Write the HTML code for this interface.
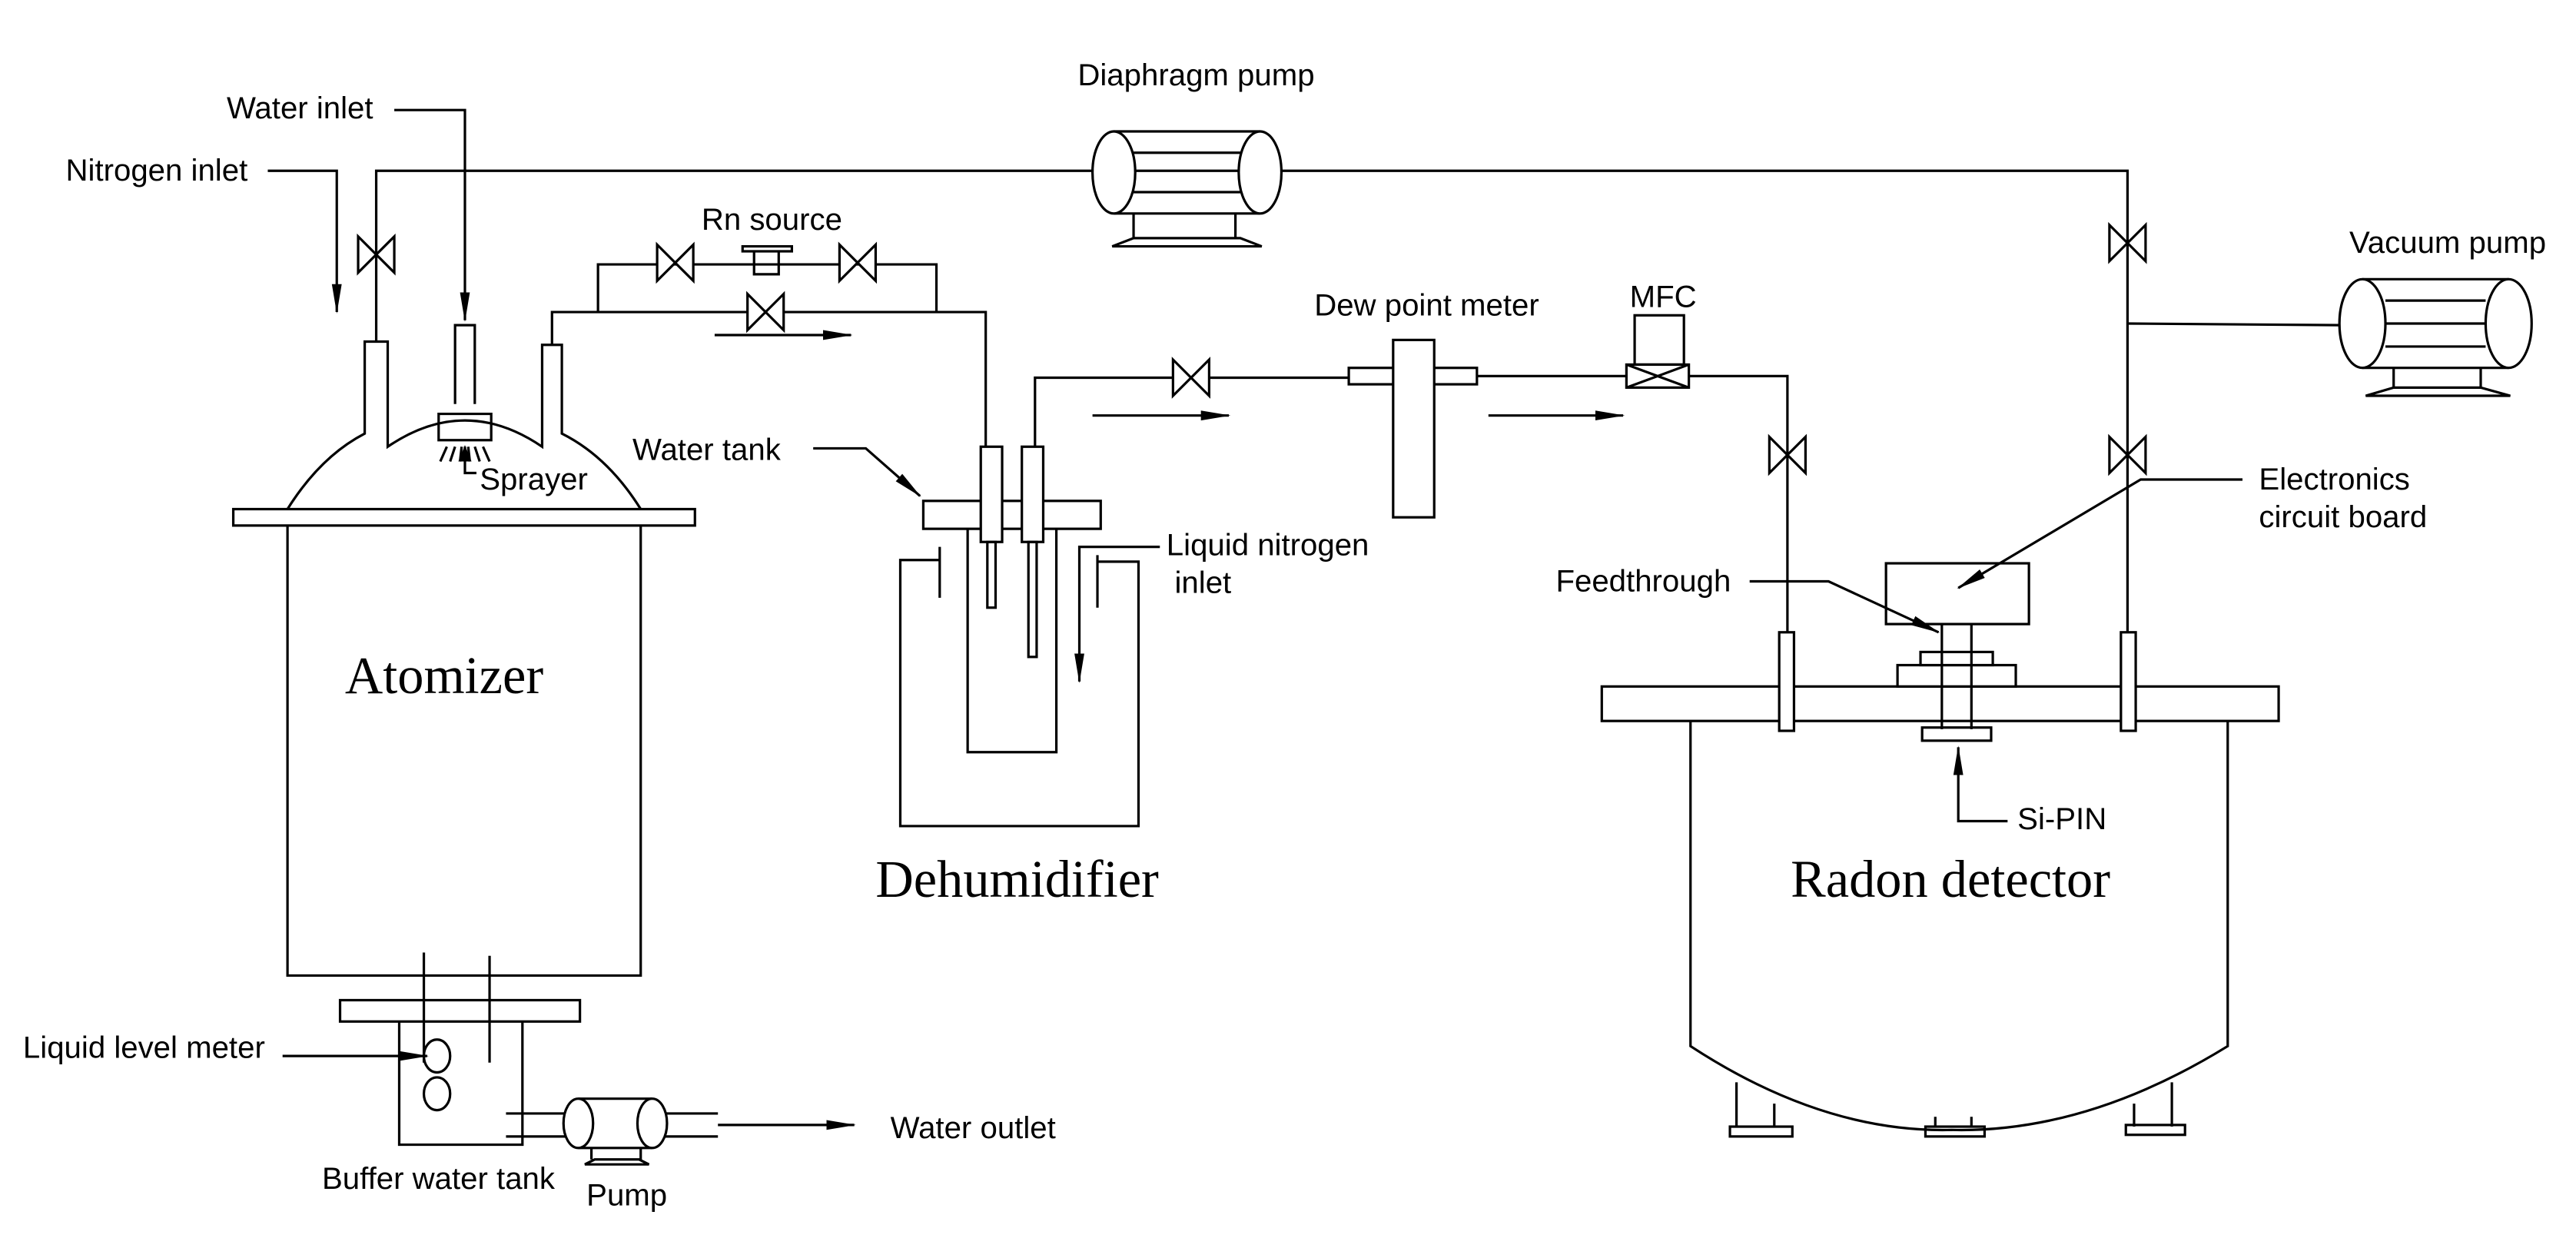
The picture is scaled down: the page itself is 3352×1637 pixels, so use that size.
<!DOCTYPE html>
<html><head><meta charset="utf-8"><style>
html,body{margin:0;padding:0;background:#fff;}
svg{display:block;}
text{font-family:"Liberation Sans",sans-serif;font-size:18.8px;fill:#000;}
.s{font-family:"Liberation Serif",serif;font-size:32px;}
</style></head><body>
<svg width="3352" height="1637" viewBox="0 0 1568 766" preserveAspectRatio="none" xmlns="http://www.w3.org/2000/svg">
<defs>
<marker id="a" markerWidth="10" markerHeight="8" refX="9" refY="4" orient="auto" markerUnits="userSpaceOnUse"><path d="M0,0 L10,4 L0,8 Z" fill="#000"/></marker>
<marker id="b" markerWidth="18" markerHeight="8" refX="17" refY="4" orient="auto" markerUnits="userSpaceOnUse"><path d="M0,1 L18,4 L0,7 Z" fill="#000"/></marker>
<g id="vh"><path d="M-11,-11 L11,11 L11,-11 L-11,11 Z" fill="#fff" stroke="#000" stroke-width="1.5"/></g>
<g id="vv"><path d="M-11,-11 L11,11 L11,-11 L-11,11 Z" fill="#fff" stroke="#000" stroke-width="1.5"/></g>
</defs>
<g fill="none" stroke="#000" stroke-width="1.5">
<path d="M229,208 V104 H665 M780,104 H1295 V385"/>
<path d="M678,80 H767 M678,130 H767 M690,93 H755 M690,104 H755 M690,117 H755 M690,130 V145 M752,130 V145 M677,150 L690,145 H755 L768,150 Z"/>
<ellipse cx="678" cy="105" rx="13" ry="25" fill="#fff"/><ellipse cx="767" cy="105" rx="13" ry="25" fill="#fff"/>
<path d="M163,104 H205 V190" marker-end="url(#b)"/>
<path d="M240,67 H283 V195" marker-end="url(#b)"/>
<rect x="142" y="310" width="281" height="10"/>
<path d="M175,320 V594 H390 V320"/>
<path d="M175,310 Q195,278 222,264 V208 H236 V272 Q283,240 330,272 V210 H342 V264 Q370,278 390,310"/>
<path d="M277,246 V198 H289 V246 M267,252 H299 V268 H267 Z"/>
<path d="M272,272 l-4,9 M277,272 l-3,9 M281,272 l-1,9 M289,272 l3,9 M294,272 l4,9 M285,272 l1,9"/>
<path d="M290,288 H283 V272" marker-end="url(#a)"/>
<path d="M336,210 V190 H600 V275 M364,190 V161 H570 V190"/>
<path d="M459,153 V167 H474 V153 M452,150 H482 V153 H452 Z"/>
<path d="M435,204 H518" marker-end="url(#b)"/>
<rect x="562" y="305" width="108" height="17"/>
<rect x="597" y="272" width="13" height="58" fill="#fff"/><rect x="622" y="272" width="13" height="58" fill="#fff"/>
<rect x="601" y="330" width="5" height="40"/><rect x="626" y="330" width="5" height="70"/>
<path d="M589,322 V458 H643 V322"/>
<path d="M572,333 V364 M572,341 H548 V503 H693 V342 H668 M668,338 V370"/>
<path d="M706,333 H657 V415" marker-end="url(#b)"/>
<path d="M495,273 H527 L560,302" marker-end="url(#b)"/>
<path d="M630,272 V230 H821"/>
<path d="M665,253 H748" marker-end="url(#b)"/>
<rect x="821" y="224" width="78" height="10" fill="#fff"/>
<rect x="848" y="207" width="25" height="108" fill="#fff"/>
<path d="M899,229 H990 M1028,229 H1088 V385"/>
<path d="M906,253 H988" marker-end="url(#b)"/>
<rect x="995" y="192" width="30" height="30"/>
<rect x="990" y="222" width="38" height="14"/><path d="M990,222 L1028,236 M990,236 L1028,222"/>
<rect x="975" y="418" width="412" height="21" fill="#fff"/>
<rect x="1083" y="385" width="9" height="60" fill="#fff"/><rect x="1291" y="385" width="9" height="60" fill="#fff"/>
<path d="M1029,439 V637 Q1110,690 1188,688 Q1270,690 1356,637 V439"/>
<path d="M1057,659 V686 M1080,672 V686 M1322,659 V686 M1299,672 V686 M1178,680 V686 M1200,680 V686"/>
<rect x="1053" y="686" width="38" height="6"/><rect x="1172" y="686" width="36" height="6"/><rect x="1294" y="685" width="36" height="6"/>
<rect x="1148" y="343" width="87" height="37" fill="#fff"/>
<rect x="1155" y="405" width="72" height="13" fill="#fff"/><rect x="1169" y="397" width="44" height="8" fill="#fff"/>
<path d="M1182,380 V444 M1200,380 V444"/>
<rect x="1170" y="443" width="42" height="8"/>
<path d="M1222,500 H1192 V455" marker-end="url(#b)"/>
<path d="M1065,354 H1113 L1180,385" marker-end="url(#b)"/>
<path d="M1365,292 H1303 L1192,358" marker-end="url(#b)"/>
<path d="M1295,197 L1425,198"/>
<path d="M1438,170 H1527 M1438,224 H1527 M1452,183 H1513 M1452,197 H1513 M1452,211 H1513 M1457,224 V236 M1510,224 V236 M1440,241 L1457,236 H1510 L1528,241 Z"/>
<ellipse cx="1438" cy="197" rx="14" ry="27" fill="#fff"/><ellipse cx="1527" cy="197" rx="14" ry="27" fill="#fff"/>
<rect x="207" y="609" width="146" height="13"/>
<path d="M243,622 V697 H318 V622 M258,580 V647 M298,582 V647"/>
<ellipse cx="266" cy="643" rx="8" ry="10"/><ellipse cx="266" cy="666" rx="8" ry="10"/>
<path d="M172,643 H260" marker-end="url(#b)"/>
<path d="M308,678 H345 M308,692 H345 M405,678 H437 M405,692 H437"/>
<path d="M352,669 H397 M352,699 H397 M360,699 V706 M390,699 V706 M356,709 L362,706 H389 L395,709 Z"/>
<ellipse cx="352" cy="684" rx="9" ry="15" fill="#fff"/><ellipse cx="397" cy="684" rx="9" ry="15" fill="#fff"/>
<path d="M437,685 H520" marker-end="url(#b)"/>
</g>
<use href="#vv" x="229" y="155"/>
<use href="#vh" x="411" y="160"/><use href="#vh" x="522" y="160"/><use href="#vh" x="466" y="190"/>
<use href="#vh" x="725" y="230"/>
<use href="#vv" x="1088" y="277"/><use href="#vv" x="1295" y="148"/><use href="#vv" x="1295" y="277"/>
<text x="40" y="110">Nitrogen inlet</text>
<text x="138" y="72">Water inlet</text>
<text x="656" y="52">Diaphragm pump</text>
<text x="427" y="140">Rn source</text>
<text x="292" y="298">Sprayer</text>
<text x="385" y="280">Water tank</text>
<text x="710" y="338">Liquid nitrogen</text>
<text x="715" y="361">inlet</text>
<text x="800" y="192">Dew point meter</text>
<text x="992" y="187">MFC</text>
<text x="1430" y="154">Vacuum pump</text>
<text x="1375" y="298">Electronics</text>
<text x="1375" y="321">circuit board</text>
<text x="947" y="360">Feedthrough</text>
<text x="1228" y="505">Si-PIN</text>
<text x="14" y="644">Liquid level meter</text>
<text x="196" y="724">Buffer water tank</text>
<text x="357" y="734">Pump</text>
<text x="542" y="693">Water outlet</text>
<text class="s" x="210" y="422">Atomizer</text>
<text class="s" x="533" y="546">Dehumidifier</text>
<text class="s" x="1090" y="546">Radon detector</text>
</svg>
</body></html>
